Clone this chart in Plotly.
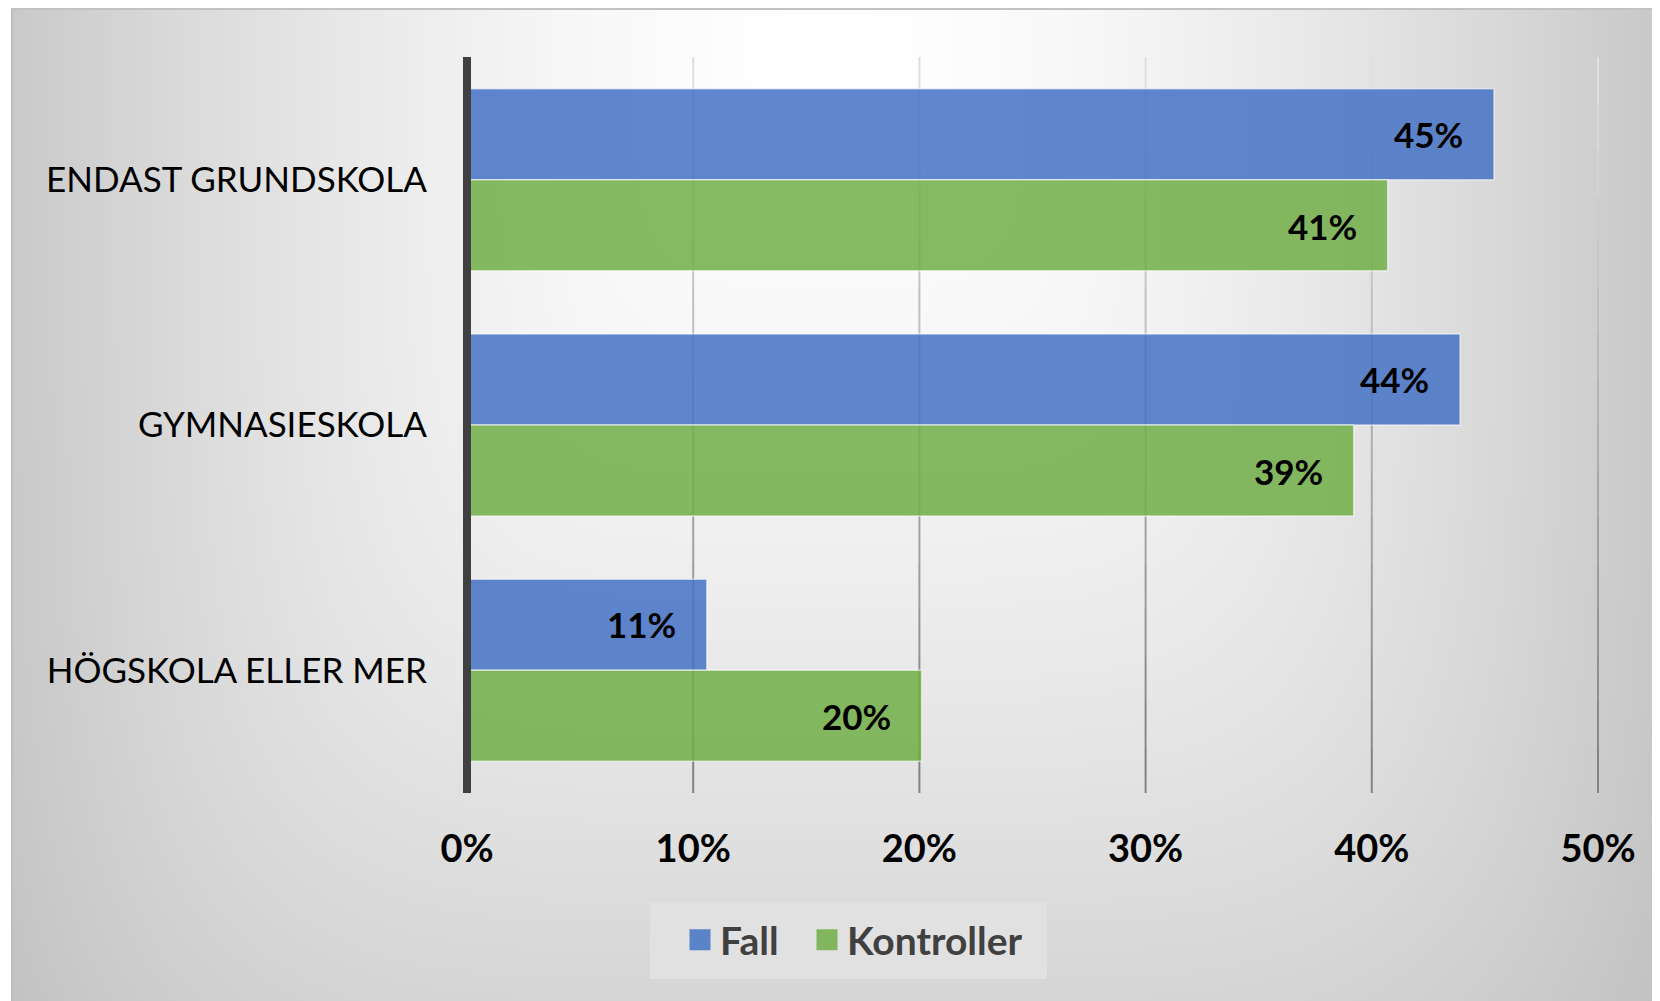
import numpy as np
import plotly.graph_objects as go

# data
categories = ["ENDAST GRUNDSKOLA", "GYMNASIESKOLA", "HÖGSKOLA ELLER MER"]
fall = [0.454, 0.439, 0.106]
kontroller = [0.407, 0.392, 0.201]
series_names = ["Fall", "Kontroller"]
x_ticks = [0, 0.1, 0.2, 0.3, 0.4, 0.5]
x_tick_labels = ["0%", "10%", "20%", "30%", "40%", "50%"]

# the page body adds an 8px margin, so the figure is 8px smaller than the window
OFF = 8
W, H = 1660 - OFF, 1001 - OFF
FONT = "Lato"
BLUE, GREEN = "rgba(68,114,196,0.85)", "rgba(112,173,71,0.85)"
BLUE_SOLID, GREEN_SOLID = "#5b84c8", "#82b65e"

# plot area in figure pixels
PL, PR, PT, PB = 467 - OFF, 1598 - OFF, 57 - OFF, 793 - OFF
XMAX = 0.5
GRID_EXTRA = 10  # px, so the last gridline isn't clipped

# background shading, light at the top centre, greyer towards the edges
bg_x = np.linspace(0, W, 84)
bg_y = np.linspace(0, H, 52)
gx, gy = np.meshgrid(bg_x + OFF, bg_y + OFF)
rr = ((np.abs(gx - 830) / 830) ** 5 + (gy / 1190) ** 5) ** 0.2
shade = 255 - 55 * rr ** 1.6

fig = go.Figure()
fig.add_trace(go.Heatmap(x=bg_x, y=bg_y, z=shade, zmin=190, zmax=255,
                         colorscale=[[0, "rgb(190,190,190)"], [1, "rgb(255,255,255)"]],
                         showscale=False, hoverinfo="skip", zsmooth="best"))

# gridlines on their own subplot (x2/y2) under the bars, darker towards the bottom
nseg = 16
for k in range(nseg):
    g = int(round(128 + (226 - 128) * (k + 0.5) / nseg))
    gxs, gys = [], []
    for t in x_ticks[1:]:
        gxs += [t, t, None]
        gys += [k / nseg, (k + 1) / nseg, None]
    fig.add_trace(go.Scatter(x=gxs, y=gys, mode="lines", xaxis="x2", yaxis="y2",
                             line=dict(color=f"rgb({g},{g},{g})", width=2),
                             showlegend=False, hoverinfo="skip"))

for name, vals, col in [(series_names[0], fall, BLUE), (series_names[1], kontroller, GREEN)]:
    fig.add_trace(go.Bar(y=categories, x=vals, orientation="h", name=name,
                         marker=dict(color=col, line=dict(color="rgba(255,255,255,0.55)", width=1.5)),
                         xaxis="x3", yaxis="y3", showlegend=False, hoverinfo="x+name"))

# legend entries (bigger squares than the bar legend swatch), one legend each
for name, col, lg in [(series_names[0], BLUE_SOLID, "legend"), (series_names[1], GREEN_SOLID, "legend2")]:
    fig.add_trace(go.Scatter(x=[None], y=[None], mode="markers", name=name, legend=lg,
                             marker=dict(symbol="square", size=16, color=col,
                                         line=dict(color=col, width=5)),
                             xaxis="x3", yaxis="y3"))

# value labels inside the bar ends
for vals, shift in [(fall, 46), (kontroller, -46)]:
    for cat, v in zip(categories, vals):
        fig.add_annotation(x=v, y=cat, xref="x3", yref="y3", text=f"{v:.0%}",
                           showarrow=False, xanchor="right", yanchor="middle",
                           xshift=-29, yshift=shift,
                           font=dict(family=FONT, size=35, color="black", weight="bold"))

shapes = [
    # value axis line at 0 (left edge of the value axis), centred on the bar base
    dict(type="line", xref="x3 domain", yref="y3 domain", x0=0, x1=0, y0=0, y1=1,
         line=dict(color="#404040", width=8), layer="above"),
    # frame bits
    dict(type="rect", xref="paper", yref="paper", x0=0, x1=3 / W, y0=0, y1=1,
         fillcolor="white", line_width=0, layer="above"),
    dict(type="line", xref="paper", yref="paper", x0=3 / W, x1=1, y0=1 - 1 / H, y1=1 - 1 / H,
         line=dict(color="#c2c2c2", width=2), layer="above"),
    dict(type="line", xref="paper", yref="paper", x0=4 / W, x1=4 / W, y0=0, y1=1 - 1 / H,
         line=dict(color="#bdbdbd", width=2), layer="above"),
    # legend box
    dict(type="rect", xref="paper", yref="paper", x0=(650 - OFF) / W, x1=(1047 - OFF) / W,
         y0=1 - (979 - OFF) / H, y1=1 - (902 - OFF) / H,
         fillcolor="#e1e1e1", line_width=0, layer="above"),
]

legend_style = dict(orientation="h", xanchor="left", y=1 - (940 - OFF) / H, yanchor="middle",
                    bgcolor="rgba(0,0,0,0)", borderwidth=0,
                    font=dict(family=FONT, size=39, color="#404040", weight="bold"))

fig.update_layout(
    template="none",
    width=W, height=H,
    margin=dict(l=0, r=0, t=0, b=0, pad=0),
    paper_bgcolor="white",
    plot_bgcolor="rgba(0,0,0,0)",
    barmode="group", bargap=0.258, bargroupgap=0,
    shapes=shapes,
    showlegend=True,
    legend=dict(x=(680 - OFF) / W, **legend_style),
    legend2=dict(x=(807 - OFF) / W, **legend_style),
    xaxis=dict(domain=[0, 1], range=[0, W], visible=False, fixedrange=True),
    yaxis=dict(domain=[0, 1], range=[H, 0], visible=False, fixedrange=True),
    xaxis2=dict(domain=[PL / W, (PR + GRID_EXTRA) / W],
                range=[0, XMAX * (PR + GRID_EXTRA - PL) / (PR - PL)],
                anchor="y2", visible=False, fixedrange=True),
    yaxis2=dict(domain=[1 - PB / H, 1 - PT / H], range=[0, 1], anchor="x2",
                visible=False, fixedrange=True),
    xaxis3=dict(domain=[PL / W, PR / W], range=[0, XMAX], anchor="y3",
                tickvals=x_ticks, ticktext=x_tick_labels, ticks="",
                showgrid=False, zeroline=False, showline=False, automargin=False,
                ticklabelstandoff=30,
                tickfont=dict(family=FONT, size=38, color="black", weight="bold")),
    yaxis3=dict(domain=[1 - PB / H, 1 - PT / H], anchor="x3", type="category",
                range=[2.5, -0.5], showline=False,
                showgrid=False, zeroline=False, ticks="", automargin=False,
                ticklabelstandoff=39,
                tickfont=dict(family=FONT, size=35, color="black")),
    font=dict(family=FONT),
)

fig.write_html("out.html")
